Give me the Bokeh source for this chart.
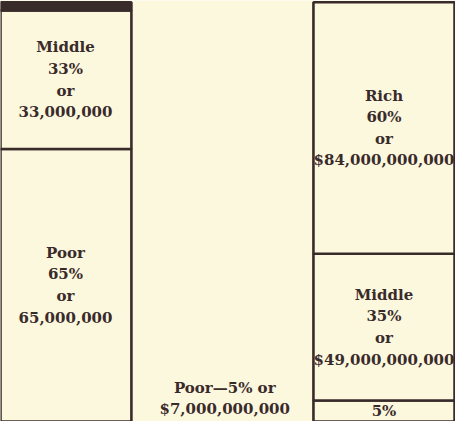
from bokeh.plotting import figure
from bokeh.models import Range1d, ColumnDataSource
from bokeh.core.properties import value
from bokeh.embed import file_html
from bokeh.resources import INLINE

# ---- data (percent shares, stacked bottom-up: poor, middle, rich) ----
groups = ["Population", "Wealth"]
poor_pct = [65, 5]
middle_pct = [33, 35]
rich_pct = [2, 60]
poor_labels = ["Poor\n65%\nor\n65,000,000", "5%"]
middle_labels = ["Middle\n33%\nor\n33,000,000", "Middle\n35%\nor\n$49,000,000,000"]
rich_labels = ["", "Rich\n60%\nor\n$84,000,000,000"]
outside_label = "Poor\u20145% or\n$7,000,000,000"

# ---- style ----
BG = "#fcf8de"
INK = "#3a2b2b"
FONT = value("DejaVu Serif")
FS = "15px"
LH = 1.2
bar_widths = [0.414, 0.443]

xs = list(range(len(groups)))
p = figure(width=455, height=421, output_backend="svg", toolbar_location=None,
           x_range=Range1d(-0.204, 1.2245), y_range=Range1d(0, 100.4),
           min_border=0, background_fill_color=BG, border_fill_color=BG)
p.axis.visible = False
p.grid.visible = False
p.outline_line_color = None

segments = [poor_pct, middle_pct, rich_pct]
labels = [poor_labels, middle_labels, rich_labels]
bottoms = [0.0] * len(groups)
for seg, lab in zip(segments, labels):
    tops = [b + v for b, v in zip(bottoms, seg)]
    fills = [INK if v < 3 else BG for v in seg]
    src = ColumnDataSource(dict(x=xs, bottom=bottoms, top=tops, w=bar_widths,
                                fill=fills, mid=[(b + t) / 2 for b, t in zip(bottoms, tops)],
                                label=lab))
    p.vbar(x="x", bottom="bottom", top="top", width="w", source=src,
           fill_color="fill", line_color=INK, line_width=2.6)
    p.text(x="x", y="mid", text="label", source=src, text_font=FONT,
           text_font_size=FS, text_font_style="bold", text_color=INK,
           text_align="center", text_baseline="middle", text_line_height=LH)
    bottoms = tops

# label for the wealth of the poor, set beside the bar between the two columns
p.text(x=[(xs[0] + xs[1]) / 2], y=[0], text=[outside_label], y_offset=-3,
       text_font=FONT, text_font_size=FS, text_font_style="bold",
       text_color=INK, text_align="center", text_baseline="bottom",
       text_line_height=LH)

open("out.html", "w").write(file_html(p, INLINE))
